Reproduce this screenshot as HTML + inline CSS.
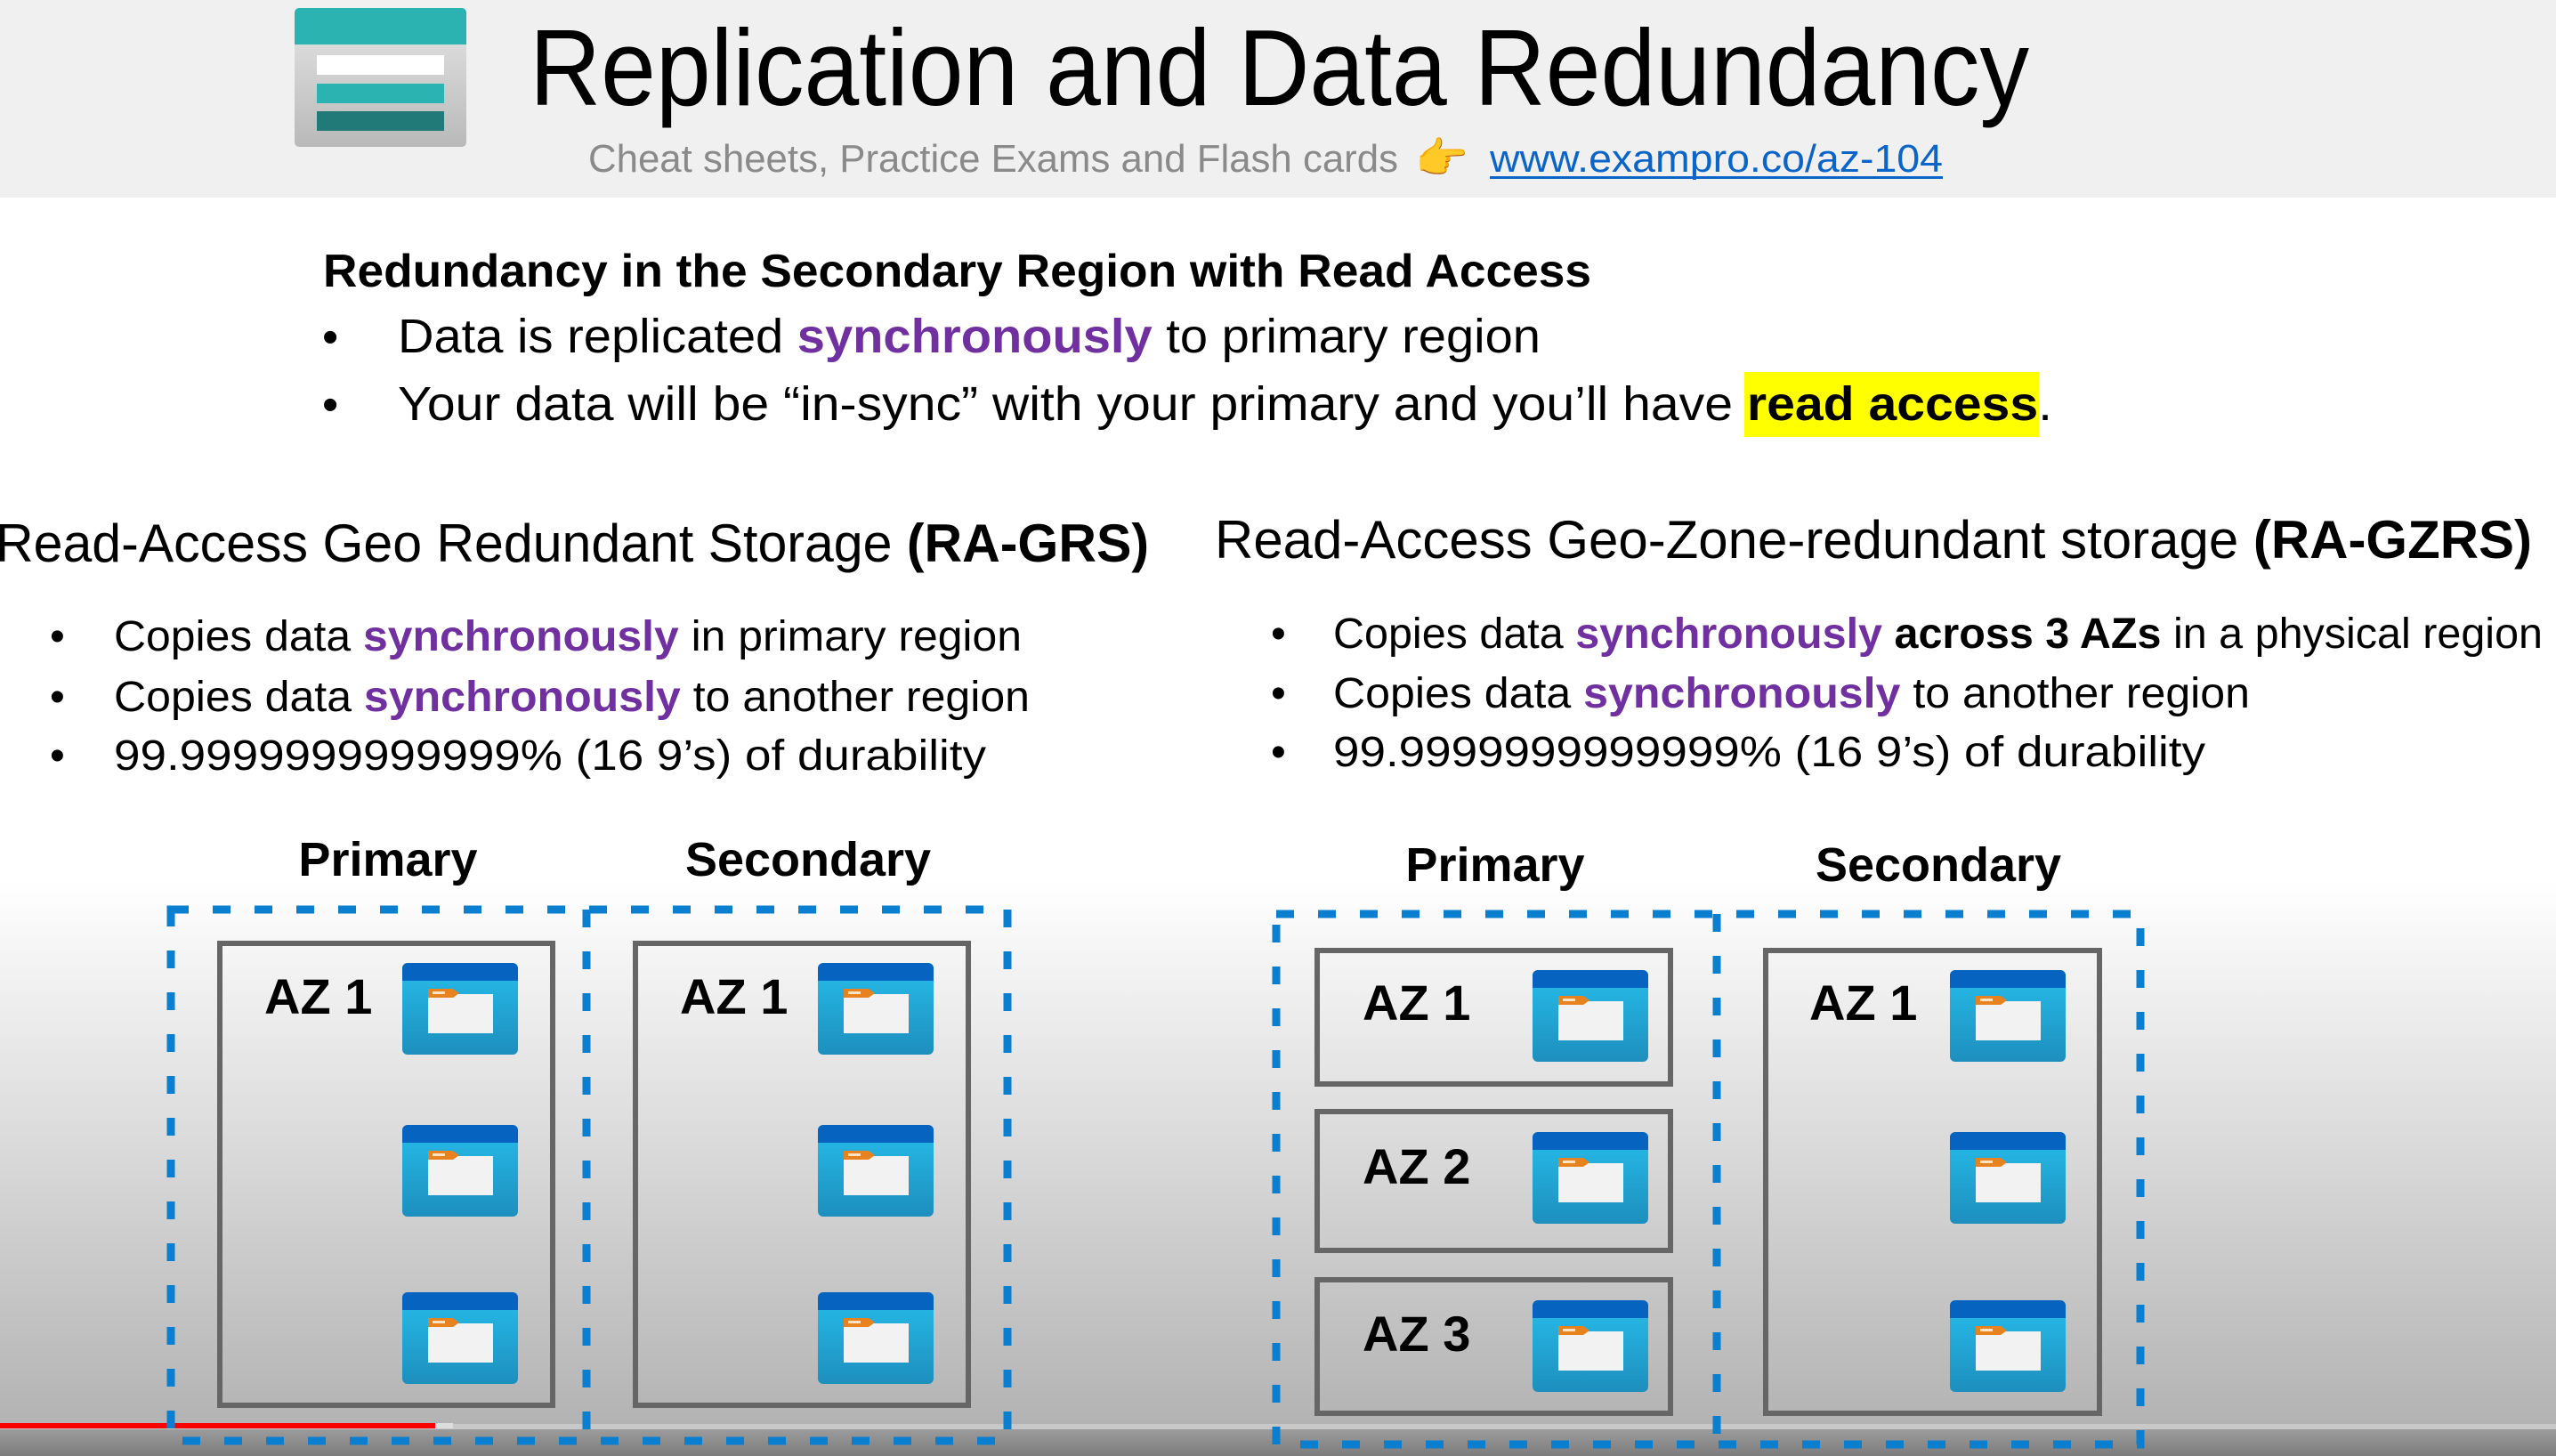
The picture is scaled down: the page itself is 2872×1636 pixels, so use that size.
<!DOCTYPE html>
<html><head><meta charset="utf-8"><style>
html,body{margin:0;padding:0;}
body{width:2872px;height:1636px;overflow:hidden;background:#fff;}
svg{display:block;}
text{font-family:"Liberation Sans",sans-serif;}
</style></head><body>
<svg width="2872" height="1636" viewBox="0 0 2872 1636" xmlns="http://www.w3.org/2000/svg">
<defs>
<linearGradient id="bg" x1="0" y1="0" x2="0" y2="1">
<stop offset="0" stop-color="#ffffff"/><stop offset="1" stop-color="#b3b3b3"/>
</linearGradient>
<linearGradient id="bot" x1="0" y1="0" x2="0" y2="1">
<stop offset="0" stop-color="#9c9c9c"/><stop offset="1" stop-color="#7c7c7c"/>
</linearGradient>
<linearGradient id="ib" x1="0" y1="0" x2="0" y2="1">
<stop offset="0" stop-color="#27bdea"/><stop offset="1" stop-color="#1d8fbe"/>
</linearGradient>
<linearGradient id="lg" x1="0" y1="0" x2="0" y2="1">
<stop offset="0" stop-color="#e6e6e6"/><stop offset="1" stop-color="#b9b9b9"/>
</linearGradient>
<g id="ic">
<rect x="0" y="0" width="130" height="103" rx="6" fill="url(#ib)"/>
<path d="M6 0 H124 A6 6 0 0 1 130 6 V20 H0 V6 A6 6 0 0 1 6 0 Z" fill="#0664c0"/>
<rect x="29" y="35" width="73" height="44" fill="#f2f2f2"/>
<path d="M29 29 H57 L64 34 L57 39 H29 Z" fill="#e8821e"/>
<rect x="34" y="32" width="14" height="3" fill="#fbe3c4"/>
</g>
</defs>
<rect x="0" y="0" width="2872" height="222" fill="#f0f0f0"/>
<rect x="0" y="222" width="2872" height="770" fill="#ffffff"/>
<rect x="0" y="990" width="2872" height="610" fill="url(#bg)"/>
<rect x="0" y="1600" width="2872" height="6" fill="#c8c8c8"/>
<rect x="0" y="1606" width="2872" height="30" fill="url(#bot)"/>
<rect x="0" y="1599" width="489" height="6" fill="#ff0000"/>
<rect x="489" y="1599" width="20" height="6" fill="#dddddd"/>

<!-- logo -->
<rect x="331" y="9" width="193" height="156" rx="5" fill="url(#lg)"/>
<path d="M336 9 H519 A5 5 0 0 1 524 14 V50 H331 V14 A5 5 0 0 1 336 9 Z" fill="#2bb3b1"/>
<rect x="356" y="62" width="143" height="22" fill="#ffffff"/>
<rect x="356" y="94" width="143" height="22" fill="#2bb3b1"/>
<rect x="356" y="125" width="143" height="22" fill="#227a78"/>

<text x="595" y="118" font-size="122" font-family="'DejaVu Sans Condensed','DejaVu Sans',sans-serif" fill="#000" textLength="1685" lengthAdjust="spacingAndGlyphs">Replication and Data Redundancy</text>
<text x="661" y="193" font-size="44" fill="#8a8a8a" textLength="910" lengthAdjust="spacingAndGlyphs">Cheat sheets, Practice Exams and Flash cards</text>
<text x="1590" y="194" font-size="48" fill="#f5b02a" font-family="'DejaVu Sans',sans-serif">👉</text>
<text x="1674" y="193" font-size="44" fill="#0b64c8" textLength="509" lengthAdjust="spacingAndGlyphs">www.exampro.co/az-104</text>
<rect x="1674" y="198" width="509" height="3" fill="#0b64c8"/>

<text x="363" y="322" font-size="52" font-weight="bold" fill="#000" textLength="1425" lengthAdjust="spacingAndGlyphs">Redundancy in the Secondary Region with Read Access</text>
<text x="362" y="396" font-size="52" fill="#000">•</text>
<text x="362" y="472" font-size="52" fill="#000">•</text>
<text x="447" y="396" font-size="54" fill="#000" textLength="1284" lengthAdjust="spacingAndGlyphs">Data is replicated <tspan fill="#7030a0" font-weight="bold">synchronously</tspan> to primary region</text>
<rect x="1960" y="418" width="331" height="73" fill="#ffff00"/>
<text x="447" y="472" font-size="54" fill="#000" textLength="1859" lengthAdjust="spacingAndGlyphs">Your data will be “in-sync” with your primary and you’ll have <tspan font-weight="bold">read access</tspan>.</text>

<text x="-5" y="631" font-size="60" fill="#000" textLength="1296" lengthAdjust="spacingAndGlyphs">Read-Access Geo Redundant Storage <tspan font-weight="bold">(RA-GRS)</tspan></text>
<text x="1365" y="627" font-size="60" fill="#000" textLength="1480" lengthAdjust="spacingAndGlyphs">Read-Access Geo-Zone-redundant storage <tspan font-weight="bold">(RA-GZRS)</tspan></text>

<g font-size="48" fill="#000">
<text x="56" y="731">•</text><text x="56" y="799">•</text><text x="56" y="865">•</text>
<text x="128" y="731" textLength="1020" lengthAdjust="spacingAndGlyphs">Copies data <tspan fill="#7030a0" font-weight="bold">synchronously</tspan> in primary region</text>
<text x="128" y="799" textLength="1029" lengthAdjust="spacingAndGlyphs">Copies data <tspan fill="#7030a0" font-weight="bold">synchronously</tspan> to another region</text>
<text x="128" y="865" textLength="980" lengthAdjust="spacingAndGlyphs">99.9999999999999% (16 9’s) of durability</text>
<text x="1428" y="728">•</text><text x="1428" y="795">•</text><text x="1428" y="861">•</text>
<text x="1498" y="728" textLength="1359" lengthAdjust="spacingAndGlyphs">Copies data <tspan fill="#7030a0" font-weight="bold">synchronously</tspan> <tspan font-weight="bold">across 3 AZs</tspan> in a physical region</text>
<text x="1498" y="795" textLength="1030" lengthAdjust="spacingAndGlyphs">Copies data <tspan fill="#7030a0" font-weight="bold">synchronously</tspan> to another region</text>
<text x="1498" y="861" textLength="980" lengthAdjust="spacingAndGlyphs">99.9999999999999% (16 9’s) of durability</text>
</g>

<g font-size="54" font-weight="bold" fill="#000" text-anchor="middle">
<text x="436" y="984">Primary</text><text x="908" y="984">Secondary</text>
<text x="1680" y="990">Primary</text><text x="2178" y="990">Secondary</text>
</g>

<g fill="none" stroke="#0a7fd0" stroke-width="9" stroke-dasharray="20 27">
<rect x="192" y="1022" width="940" height="597"/>
<line x1="659" y1="1022" x2="659" y2="1619"/>
<rect x="1434" y="1027" width="971" height="596"/>
<line x1="1929" y1="1027" x2="1929" y2="1623"/>
</g>

<g fill="none" stroke="#666" stroke-width="6">
<rect x="247" y="1060" width="374" height="519"/>
<rect x="714" y="1060" width="374" height="519"/>
<rect x="1480" y="1068" width="397" height="150"/>
<rect x="1480" y="1249" width="397" height="156"/>
<rect x="1480" y="1438" width="397" height="150"/>
<rect x="1984" y="1068" width="375" height="520"/>
</g>

<g font-size="56" font-weight="bold" fill="#000">
<text x="297" y="1139">AZ 1</text><text x="764" y="1139">AZ 1</text>
<text x="1531" y="1146">AZ 1</text><text x="1531" y="1330">AZ 2</text><text x="1531" y="1518">AZ 3</text>
<text x="2033" y="1146">AZ 1</text>
</g>

<use href="#ic" x="452" y="1082"/><use href="#ic" x="452" y="1264"/><use href="#ic" x="452" y="1452"/>
<use href="#ic" x="919" y="1082"/><use href="#ic" x="919" y="1264"/><use href="#ic" x="919" y="1452"/>
<use href="#ic" x="1722" y="1090"/><use href="#ic" x="1722" y="1272"/><use href="#ic" x="1722" y="1461"/>
<use href="#ic" x="2191" y="1090"/><use href="#ic" x="2191" y="1272"/><use href="#ic" x="2191" y="1461"/>
</svg>
</body></html>
